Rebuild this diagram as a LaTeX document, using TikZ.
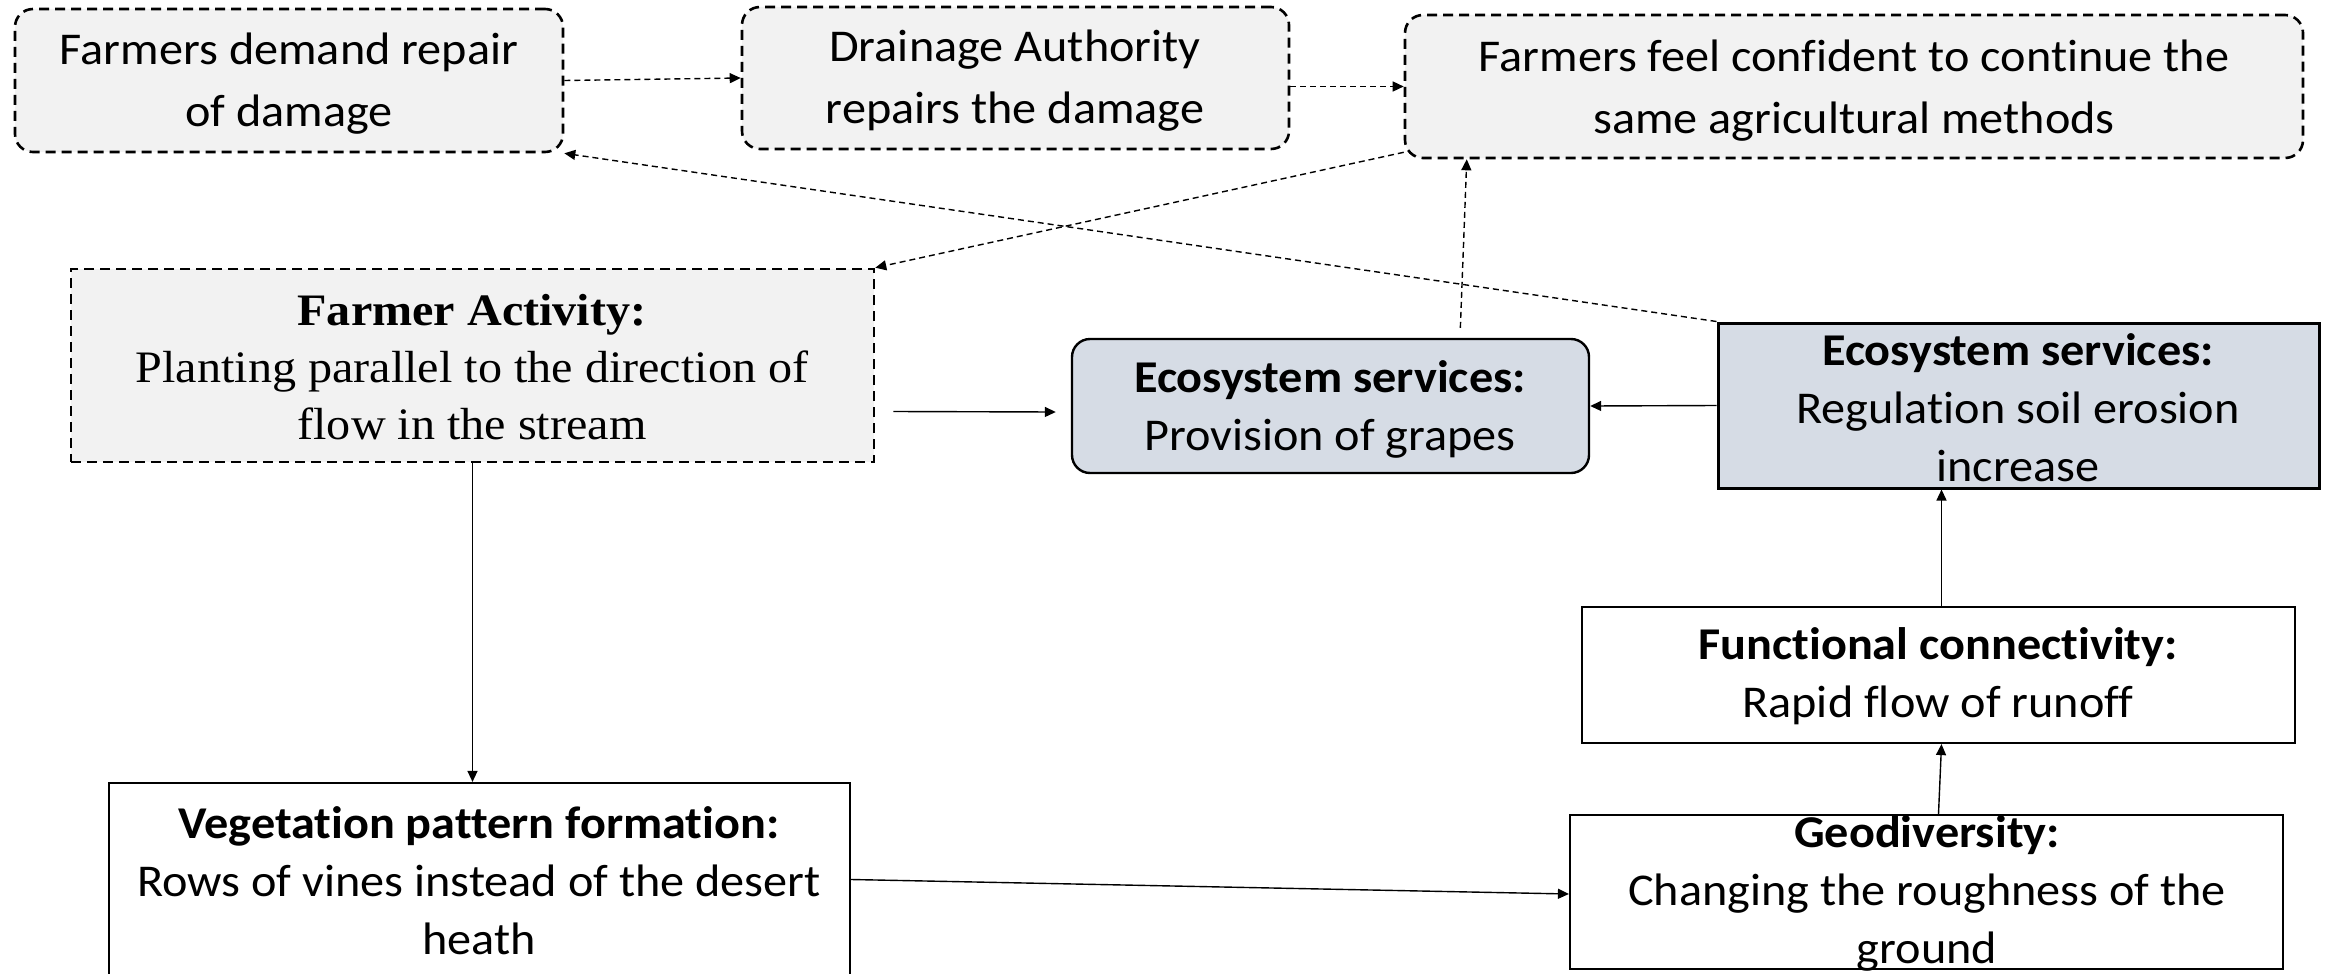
\documentclass[tikz,border=0pt]{standalone}
\usepackage{fontspec}
\setmainfont{Carlito}[Ligatures=NoCommon, FakeStretch=1.06]
\newfontfamily\serifface{Liberation Serif}[FakeStretch=1.07]
\usetikzlibrary{arrows.meta,calc}
\definecolor{softgray}{HTML}{F2F2F2}
\definecolor{bluegray}{HTML}{D6DCE5}
\tikzset{
  dashbox/.style={draw=black, line width=2.6pt, dash pattern=on 10pt off 6pt, fill=softgray, inner sep=0pt},
  roundbox/.style={dashbox, rounded corners=18pt},
  servicebox/.style={draw=black, line width=2.4pt, fill=bluegray, inner sep=0pt},
  plainbox/.style={draw=black, line width=2.2pt, fill=white, inner sep=0pt},
  txt/.style={align=center, inner sep=0pt, font=\fontsize{45.5}{58}\selectfont},
  toptxt/.style={align=center, inner sep=0pt, font=\fontsize{45.5}{62}\selectfont},
  serftxt/.style={align=center, inner sep=0pt, font=\serifface\fontsize{45}{57}\selectfont},
  link/.style={line width=1.4pt, -{Triangle[length=11pt,width=10pt]}},
  dlink/.style={link, dash pattern=on 6pt off 4pt}
}
\begin{document}
\begin{tikzpicture}[x=1pt,y=-1pt]
\useasboundingbox (0,0) rectangle (2331,974);
\clip (0,0) rectangle (2331,974);

% top row: dashed, rounded feedback boxes
\node[roundbox, minimum width=548pt, minimum height=143pt] (b1) at (289,80.5) {};
\node[toptxt] (t1) at (289,84) {Farmers demand repair\\of damage};
\node[roundbox, minimum width=547pt, minimum height=142pt] (b2) at (1015.5,78) {};
\node[toptxt] (t2) at (1015,81) {Drainage Authority\\repairs the damage};
\node[roundbox, minimum width=898pt, minimum height=143pt] (b3) at (1854,86.5) {};
\node[toptxt] (t3) at (1854,90.5) {Farmers feel confident to continue the\\same agricultural methods};

% farmer activity
\node[dashbox, minimum width=803pt, minimum height=193pt] (b4) at (472.5,365.5) {};
\node[serftxt] (t4) at (472,367) {\textbf{Farmer Activity:}\\Planting parallel to the direction of\\flow in the stream};

% ecosystem services
\node[servicebox, rounded corners=18pt, minimum width=517pt, minimum height=134pt] (b5) at (1330.5,406) {};
\node[txt] (t5) at (1330,409) {\textbf{Ecosystem services:}\\Provision of grapes};
\node[servicebox, line width=3pt, minimum width=601pt, minimum height=165pt] (b6) at (2018.5,405.5) {};
\node[txt] (t6) at (2018,407.5) {\textbf{Ecosystem services:}\\Regulation soil erosion\\increase};

% landscape processes
\node[plainbox, minimum width=713pt, minimum height=136pt] (b7) at (1938.5,675) {};
\node[txt] (t7) at (1938,676) {\textbf{Functional connectivity:}\\Rapid flow of runoff};
\node[plainbox, minimum width=713pt, minimum height=154pt] (b8) at (1926.5,892) {};
\node[txt] (t8) at (1927,893.5) {\textbf{Geodiversity:}\\Changing the roughness of the\\ground};
\node[plainbox, minimum width=741pt, minimum height=207pt] (b9) at (479.5,886.5) {};
\node[txt] (t9) at (479,880.5) {\textbf{Vegetation pattern formation:}\\Rows of vines instead of the desert\\heath};

% dashed feedback connectors
\draw[dlink] (b1.east) -- (b2.west);
\draw[dlink] (b2.east |- b3.west) -- (b3.west);
\draw[dlink] ([yshift=7pt]b3.south west) -- (b4.north east);
\draw[dlink] (b6.north west) -- (b1.south east);
\coordinate (p5) at ($(b5.north west)!0.75!(b5.north east)$);
\coordinate (p3) at ($(b3.south west)!0.07!(b3.south east)$);
\draw[dlink] ([yshift=10pt]p5) -- (p3);

% solid causal connectors
\draw[link] ([xshift=18pt,yshift=-46pt]b4.east) -- ([xshift=-15pt,yshift=-6pt]b5.west);
\draw[link] (b6.west) -- (b5.east);
\draw[link] ([xshift=3pt]b7.north) -- ([xshift=3pt]b7.north |- b6.south);
\draw[link] ([xshift=12pt]b8.north) -- ([xshift=3pt]b7.south);
\draw[link] (b4.south) -- (b4.south |- b9.north);
\draw[link] ([yshift=7pt]b9.east) -- ([yshift=-2pt]b8.west);
\end{tikzpicture}
\end{document}
